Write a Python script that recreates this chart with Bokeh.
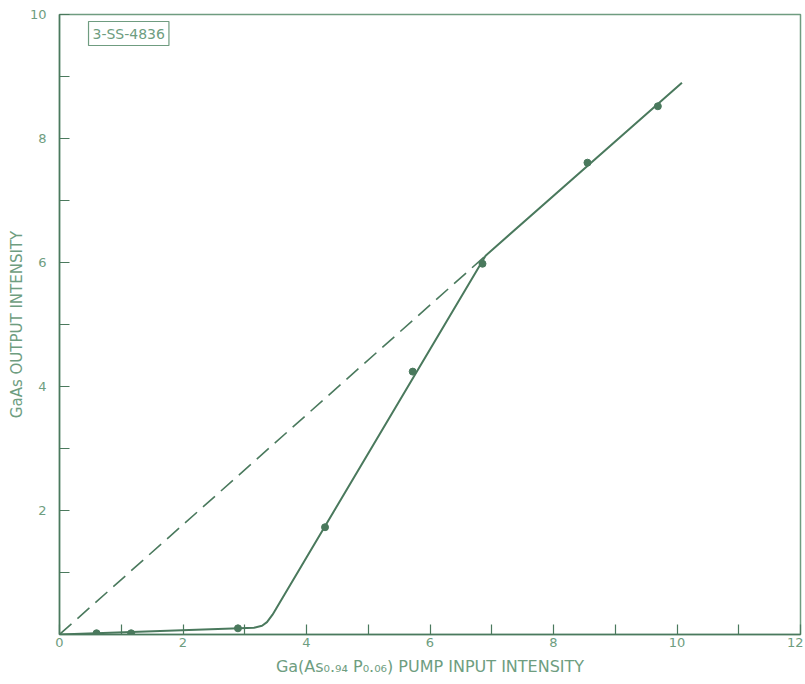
from bokeh.plotting import figure
from bokeh.models import Range1d, FixedTicker, Label
from bokeh.embed import file_html
from bokeh.resources import INLINE

# Measured points
pump_input = [0.60, 1.16, 2.89, 4.30, 5.72, 6.85, 8.55, 9.69]
gaas_output = [0.02, 0.02, 0.10, 1.73, 4.24, 5.98, 7.61, 8.52]

# Hand-drawn fitted curve (solid)
fit_x = [0.0, 3.15, 3.28, 3.36, 3.45, 6.90, 10.08]
fit_y = [0.0, 0.11, 0.14, 0.20, 0.32, 6.11, 8.90]

# Dashed reference line
dash_x = [0.0, 6.90]
dash_y = [0.0, 6.11]

x_ticks = list(range(0, 13))
y_ticks = list(range(0, 11))
x_tick_labels = {t: (str(t) if t % 2 == 0 else "") for t in x_ticks}
y_tick_labels = {t: (str(t) if t % 2 == 0 and t != 0 else "") for t in y_ticks}

x_title = "Ga(As\u2080.\u2089\u2084 P\u2080.\u2080\u2086) PUMP INPUT INTENSITY"
y_title = "GaAs OUTPUT INTENSITY"

LINE = "#4a795d"
FRAME = "#6f9c80"
TEXT = "#6e9d80"
FONT = "DejaVu Sans"

p = figure(width=803, height=680, output_backend="svg", toolbar_location=None,
           x_range=Range1d(0, 12), y_range=Range1d(0, 10),
           min_border_left=59, min_border_right=3, min_border_top=14, min_border_bottom=46)
p.background_fill_color = "white"
p.border_fill_color = "white"
p.outline_line_color = FRAME
p.outline_line_width = 1.5
p.xgrid.grid_line_color = None
p.ygrid.grid_line_color = None

for ax in (p.xaxis[0], p.yaxis[0]):
    ax.axis_line_color = LINE
    ax.axis_line_width = 1.5
    ax.major_tick_line_color = LINE
    ax.major_tick_line_width = 1.2
    ax.major_tick_in = 10
    ax.major_tick_out = 0
    ax.minor_tick_line_color = None
    ax.major_label_text_color = TEXT
    ax.major_label_text_font = FONT
    ax.major_label_text_font_size = "13px"
    ax.axis_label_text_color = TEXT
    ax.axis_label_text_font = FONT
    ax.axis_label_text_font_style = "normal"

p.xaxis[0].ticker = FixedTicker(ticks=x_ticks)
p.yaxis[0].ticker = FixedTicker(ticks=y_ticks)
p.xaxis[0].major_label_overrides = x_tick_labels
p.yaxis[0].major_label_overrides = y_tick_labels
p.xaxis[0].major_label_standoff = 3
p.yaxis[0].major_label_standoff = 13
p.xaxis[0].axis_label = x_title
p.xaxis[0].axis_label_text_font_size = "16px"
p.xaxis[0].axis_label_standoff = 7
p.yaxis[0].axis_label = y_title
p.yaxis[0].axis_label_text_font_size = "15px"
p.yaxis[0].axis_label_standoff = 1

# dashed and solid lines
p.line(dash_x, dash_y, line_color=LINE, line_width=1.6, line_dash="16 8")
p.line(fit_x, fit_y, line_color=LINE, line_width=2)
p.scatter(pump_input, gaas_output, size=7, color=LINE)

# drawing number tag
p.add_layout(Label(x=0.47, y=9.5, text="3-SS-4836", text_color=TEXT,
                   text_font=FONT, text_font_size="14px",
                   border_line_color=FRAME, border_line_width=1.2,
                   background_fill_color="white", padding=4))

open("out.html", "w").write(file_html(p, INLINE))
